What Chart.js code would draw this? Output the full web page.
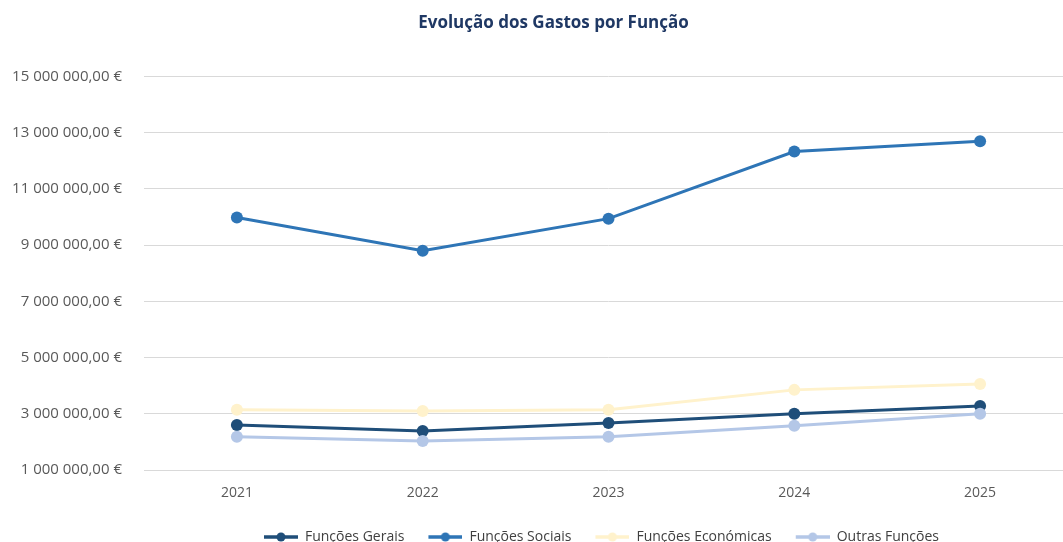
<!DOCTYPE html>
<html>
<head>
<meta charset="utf-8">
<script src="https://cdn.jsdelivr.net/npm/chart.js"></script>
<style>
  html, body { margin: 0; padding: 0; background: #fff; overflow: hidden; }
  #chart { display: block; }
</style>
</head>
<body>
<canvas id="chart" width="1079" height="542"></canvas>
<script>
const years = ['2021', '2022', '2023', '2024', '2025'];
const funcoesGerais = [2600000, 2390000, 2670000, 3000000, 3280000];
const funcoesSociais = [9980000, 8800000, 9940000, 12330000, 12690000];
const funcoesEconomicas = [3140000, 3100000, 3140000, 3850000, 4060000];
const outrasFuncoes = [2180000, 2030000, 2180000, 2570000, 3000000];
const yTicks = [1000000, 3000000, 5000000, 7000000, 9000000, 11000000, 13000000, 15000000];
const legendOrder = ['Funções Gerais', 'Funções Sociais', 'Funções Económicas', 'Outras Funções'];

const FONT = "'Open Sans', 'Liberation Sans', sans-serif";

function euro(v) {
  const s = Math.round(v).toString().replace(/\B(?=(\d{3})+(?!\d))/g, ' ');
  return s + ',00 €';
}

function serie(label, data, color) {
  return {
    label: label,
    data: data,
    borderColor: color,
    backgroundColor: color,
    borderWidth: 3,
    pointRadius: 6,
    pointHoverRadius: 6,
    pointBorderWidth: 0,
    tension: 0
  };
}

// legend icon: transparent gap on the left, then a line with a dot
function legendIcon(color) {
  const c = document.createElement('canvas');
  c.width = 48; c.height = 12;
  const g = c.getContext('2d');
  g.strokeStyle = color; g.lineWidth = 3.5;
  g.beginPath(); g.moveTo(14, 6); g.lineTo(48, 6); g.stroke();
  g.fillStyle = color;
  g.beginPath(); g.arc(31, 6, 4.5, 0, Math.PI * 2); g.fill();
  return c;
}

// legend and title sit over the centre of the plot, legend a bit lower
const boxShift = {
  id: 'boxShift',
  afterLayout(chart) {
    const lg = chart.legend;
    lg.left += 55; lg.right += 55;
    lg.top += 12; lg.bottom += 12;
    const t = chart.titleBlock;
    t.left += 14; t.right += 14;
  }
};

new Chart(document.getElementById('chart').getContext('2d'), {
  type: 'line',
  data: {
    labels: years,
    datasets: [
      serie('Funções Sociais', funcoesSociais, '#2e75b6'),
      serie('Funções Económicas', funcoesEconomicas, '#fff2cc'),
      serie('Outras Funções', outrasFuncoes, '#b4c7e7'),
      serie('Funções Gerais', funcoesGerais, '#1f4e79')
    ]
  },
  plugins: [boxShift],
  options: {
    responsive: false,
    animation: false,
    layout: { padding: 0 },
    plugins: {
      title: {
        display: true,
        text: 'Evolução dos Gastos por Função',
        color: '#1f3864',
        font: { family: FONT, size: 17, weight: 'bold' },
        padding: { top: 13, bottom: 43 }
      },
      legend: {
        position: 'bottom',
        labels: {
          color: '#404040',
          font: { family: FONT, size: 14 },
          usePointStyle: true,
          pointStyleWidth: 48,
          padding: 10,
          generateLabels: chart => {
            const items = Chart.defaults.plugins.legend.labels.generateLabels(chart);
            items.forEach(it => {
              it.pointStyle = legendIcon(chart.data.datasets[it.datasetIndex].borderColor);
            });
            items.sort((a, b) => legendOrder.indexOf(a.text) - legendOrder.indexOf(b.text));
            return items;
          }
        }
      },
      tooltip: { enabled: false }
    },
    scales: {
      x: {
        offset: true,
        grid: { display: false },
        border: { display: false },
        ticks: { color: '#595959', font: { family: FONT, size: 14 }, padding: 7 },
        afterFit: s => { s.height = 38; }
      },
      y: {
        min: 1000000,
        max: 15000000,
        afterBuildTicks: s => { s.ticks = yTicks.map(v => ({ value: v })); },
        grid: { color: '#d9d9d9', lineWidth: 1, drawTicks: false },
        border: { display: false },
        ticks: {
          color: '#595959',
          font: { family: FONT, size: 15 },
          padding: 22,
          callback: v => euro(v)
        },
        afterFit: s => { s.width = 144; }
      }
    }
  }
});
</script>
</body>
</html>
